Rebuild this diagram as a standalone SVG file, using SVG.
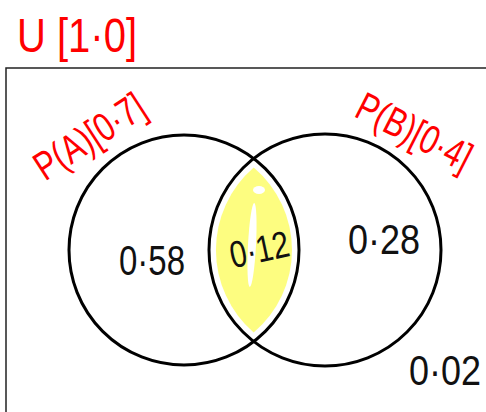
<svg xmlns="http://www.w3.org/2000/svg" width="486" height="412" viewBox="0 0 486 412">
  <style>
    .red { fill: #ff0000; font-family: "Liberation Sans", Arial, sans-serif; }
    .num { fill: #111111; font-family: "Liberation Sans", Arial, sans-serif; }
    .circ { fill: none; stroke: #000000; stroke-width: 3; }
  </style>
  <rect width="486" height="412" fill="#ffffff"/>
  <g id="universe">
    <rect x="6" y="68" width="490" height="360" fill="none" stroke="#222222" stroke-width="1.5"/>
    <text class="red" transform="translate(77,52) scale(1,1.2)" font-size="40" text-anchor="middle">U [1·0]</text>
  </g>
  <g id="intersection">
    <path d="M 253.7 167.5 A 108 108 0 0 1 253.7 332.5 A 109 109 0 0 1 253.7 167.5 Z" fill="#fdfd80"/>
    <ellipse cx="252" cy="245" rx="4" ry="42" fill="#ffffff" transform="rotate(3 252 245)"/>
    <ellipse cx="259" cy="190" rx="6" ry="4" fill="#ffffff"/>
    <text class="num" transform="translate(262,262) rotate(-12) scale(1,1.25)" font-size="30" text-anchor="middle">0·12</text>
  </g>
  <g id="setA">
    <circle class="circ" cx="184" cy="250" r="115"/>
    <text class="red" transform="translate(97,148) rotate(-33) scale(1,1.3)" font-size="31" text-anchor="middle">P(A)[0·7]</text>
    <text class="num" transform="translate(152,275) scale(1,1.3)" font-size="33" text-anchor="middle">0·58</text>
  </g>
  <g id="setB">
    <circle class="circ" cx="325" cy="250" r="116"/>
    <text class="red" transform="translate(408,144) rotate(27) scale(1,1.3)" font-size="31" text-anchor="middle">P(B)[0·4]</text>
    <text class="num" transform="translate(384,254) scale(1,1.2)" font-size="36" text-anchor="middle">0·28</text>
  </g>
  <g id="outside">
    <text class="num" transform="translate(445,385) scale(1,1.2)" font-size="36" text-anchor="middle">0·02</text>
  </g>
  <g id="connectors"/>
</svg>
